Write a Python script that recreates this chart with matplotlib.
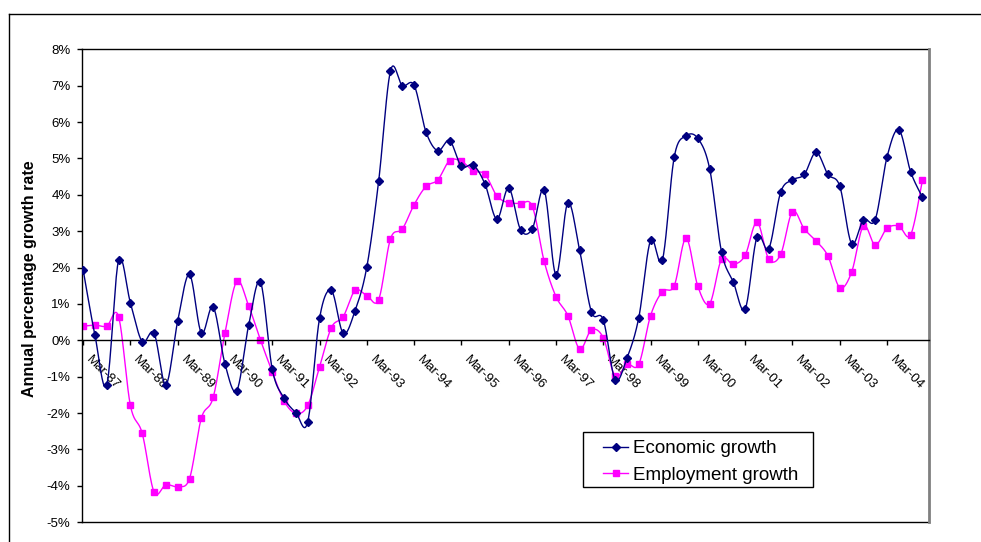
import numpy as np
import matplotlib
matplotlib.use("Agg")
import matplotlib.pyplot as plt
from matplotlib.lines import Line2D
from matplotlib.patches import Rectangle
import matplotlib.transforms as mtransforms

plt.rcParams['font.family'] = ['Liberation Sans', 'DejaVu Sans']

# ---- data (quarterly, Mar-87 .. Dec-04) ----
years = list(range(87, 100)) + list(range(0, 5))
tick_labels = ["Mar-%02d" % y for y in years]
series_names = ["Economic growth", "Employment growth"]

economic = [1.94, 0.14, -1.22, 2.20, 1.03, -0.04, 0.20, -1.22, 0.53, 1.81,
            0.20, 0.92, -0.65, -1.38, 0.41, 1.60, -0.80, -1.59, -1.99, -2.24,
            0.61, 1.37, 0.19, 0.81, 2.02, 4.38, 7.41, 7.00, 7.01, 5.73,
            5.21, 5.49, 4.78, 4.82, 4.29, 3.33, 4.19, 3.04, 3.07, 4.13,
            1.80, 3.78, 2.47, 0.78, 0.56, -1.08, -0.49, 0.62, 2.75, 2.21,
            5.04, 5.62, 5.55, 4.71, 2.43, 1.60, 0.86, 2.84, 2.52, 4.07,
            4.41, 4.56, 5.17, 4.56, 4.24, 2.66, 3.32, 3.32, 5.04, 5.79,
            4.63, 3.93]

employment = [0.39, 0.42, 0.39, 0.65, -1.79, -2.56, -4.17, -3.97, -4.02, -3.80,
              -2.14, -1.57, 0.20, 1.62, 0.95, 0.01, -0.87, -1.67, -2.01, -1.79,
              -0.73, 0.35, 0.65, 1.37, 1.23, 1.12, 2.79, 3.06, 3.73, 4.23,
              4.41, 4.94, 4.92, 4.66, 4.56, 3.97, 3.78, 3.76, 3.68, 2.17,
              1.20, 0.68, -0.24, 0.29, 0.07, -0.99, -0.66, -0.66, 0.68, 1.34,
              1.50, 2.81, 1.48, 1.01, 2.23, 2.09, 2.34, 3.25, 2.23, 2.36,
              3.54, 3.06, 2.73, 2.32, 1.45, 1.87, 3.15, 2.62, 3.08, 3.14,
              2.90, 4.41]


def smooth(x, y, n=20):
    x = np.asarray(x, float)
    y = np.asarray(y, float)
    px = np.concatenate([[x[0]], x, [x[-1]]])
    py = np.concatenate([[y[0]], y, [y[-1]]])
    t = np.linspace(0, 1, n, endpoint=False)
    xs, ys = [], []
    for i in range(1, len(px) - 2):
        p0x, p0y = px[i], py[i]
        p3x, p3y = px[i + 1], py[i + 1]
        c1x = p0x + (px[i + 1] - px[i - 1]) / 6.0
        c1y = p0y + (py[i + 1] - py[i - 1]) / 6.0
        c2x = p3x - (px[i + 2] - px[i]) / 6.0
        c2y = p3y - (py[i + 2] - py[i]) / 6.0
        b0 = (1 - t) ** 3
        b1 = 3 * (1 - t) ** 2 * t
        b2 = 3 * (1 - t) * t ** 2
        b3 = t ** 3
        xs.append(b0 * p0x + b1 * c1x + b2 * c2x + b3 * p3x)
        ys.append(b0 * p0y + b1 * c1y + b2 * c2y + b3 * p3y)
    xs.append([x[-1]])
    ys.append([y[-1]])
    return np.concatenate(xs), np.concatenate(ys)


W, H = 981, 542
fig = plt.figure(figsize=(W / 100, H / 100), dpi=100)
fig.patch.set_facecolor('white')


def fx(px):
    return px / W


def fy(py):
    return 1 - py / H


# outer chart frame (top and left visible)
fig.add_artist(Line2D([fx(9), 1.0], [fy(14), fy(14)], color='black', lw=1.0,
                      transform=fig.transFigure))
fig.add_artist(Line2D([fx(9), fx(9)], [0, fy(14)], color='black', lw=1.0,
                      transform=fig.transFigure))

left, right, top, bottom = 81.7, 929, 49.3, 522.2
ax = fig.add_axes([fx(left), fy(bottom), (right - left) / W, (bottom - top) / H])

x = np.arange(len(economic))
navy = '#000080'
magenta = '#FF00FF'

sx, sy = smooth(x, economic)
ax.plot(sx, sy, color=navy, lw=1.0, zorder=3)
ax.plot(x, economic, ls='none', marker='D', ms=4.5, color=navy, zorder=4)

sx2, sy2 = smooth(x, employment)
ax.plot(sx2, sy2, color=magenta, lw=1.0, zorder=2)
ax.plot(x, employment, ls='none', marker='s', ms=4.5, color=magenta, zorder=2.5)

ax.set_xlim(-0.12, 71.55)
ax.set_ylim(-5, 8)

# spines
for s in ['top', 'right']:
    ax.spines[s].set_visible(False)
ax.spines['bottom'].set_position(('data', 0))
ax.spines['bottom'].set_linewidth(1.0)
ax.spines['left'].set_linewidth(1.0)
# plot area border lines
ax.plot([0, 1], [1, 1], transform=ax.transAxes, color='black', lw=1.0, clip_on=False)
ax.plot([0, 1], [0, 0], transform=ax.transAxes, color='black', lw=1.0, clip_on=False)
ax.plot([1, 1], [0, 1], transform=ax.transAxes, color='#808080', lw=2.0, clip_on=False)

ax.set_yticks(range(-5, 9))
ax.set_yticklabels(["%d%%" % v for v in range(-5, 9)], fontsize=9.5)
ax.tick_params(axis='y', direction='out', length=3.5, width=1, pad=4.5)

ax.set_xticks(np.arange(0, 4 * len(tick_labels), 4))
ax.set_xticklabels(tick_labels, fontsize=9.5, rotation=-45, ha='left', va='center',
                   rotation_mode='anchor')
ax.tick_params(axis='x', direction='out', length=3.5, width=1, pad=9)
offset = mtransforms.ScaledTranslation(5 / 100, 0, fig.dpi_scale_trans)
for lab in ax.get_xticklabels():
    lab.set_transform(lab.get_transform() + offset)

ax.set_ylabel("Annual percentage growth rate", fontsize=11.5, fontweight='bold')
ax.yaxis.set_label_coords((37.5 - left) / (right - left), (bottom - 279) / (bottom - top))

# legend box drawn in figure pixel coordinates
lx0, ly0, lx1, ly1 = 583, 432, 813, 487
fig.add_artist(Rectangle((fx(lx0), fy(ly1)), (lx1 - lx0) / W, (ly1 - ly0) / H,
                         transform=fig.transFigure, facecolor='white',
                         edgecolor='black', lw=1.0, zorder=10))
rows = [(446.5, navy, 'D', 4.0), (473.3, magenta, 's', 4.0)]
for name, (ry, col, mk, ms) in zip(series_names, rows):
    fig.add_artist(Line2D([fx(603), fx(628)], [fy(ry), fy(ry)], color=col, lw=1.0,
                          transform=fig.transFigure, zorder=11))
    fig.add_artist(Line2D([fx(615.5)], [fy(ry)], color=col, marker=mk, ms=ms,
                          ls='none', transform=fig.transFigure, zorder=12))
    fig.text(fx(633), fy(ry), name, fontsize=13.5, ha='left', va='center_baseline',
             zorder=12)

fig.savefig("out.png", dpi=100, facecolor='white')
